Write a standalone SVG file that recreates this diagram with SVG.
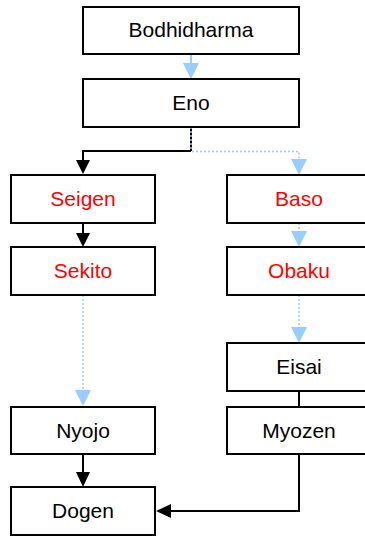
<svg xmlns="http://www.w3.org/2000/svg" width="365" height="536" viewBox="0 0 365 536">
<style>
.box{fill:#fff;stroke:#000;stroke-width:2}
.t{font-family:"Liberation Sans",Arial,sans-serif;font-size:21px;text-anchor:middle;fill:#000}
.r{fill:#ff0000}
.k{fill:none;stroke:#000;stroke-width:2}
.b{fill:none;stroke:#99ccff;stroke-width:1.5;stroke-dasharray:2 2}
.bs{fill:none;stroke:#99ccff;stroke-width:2}
.ha{fill:#000}
.hb{fill:#99ccff}
</style>
<rect width="365" height="536" fill="#fff"/>
<g id="connectors">
<line class="bs" x1="191" y1="54" x2="191" y2="64"/>
<polygon class="hb" points="183,63 199,63 191,79"/>
<line class="k" x1="191" y1="127" x2="191" y2="151"/>
<line class="b" x1="191" y1="127" x2="191" y2="151"/>
<polyline class="k" points="191,151 83,151 83,162"/>
<polygon class="ha" points="76,160 90,160 83,174"/>
<polyline class="b" points="192,151.5 299,151.5 299,160"/>
<polygon class="hb" points="291,159 307,159 299,175"/>
<line class="k" x1="83" y1="223" x2="83" y2="234"/>
<polygon class="ha" points="76,233 90,233 83,247"/>
<line class="b" x1="299" y1="223" x2="299" y2="232"/>
<polygon class="hb" points="291,231 307,231 299,247"/>
<line class="b" x1="299" y1="295" x2="299" y2="328"/>
<polygon class="hb" points="291,327 307,327 299,343"/>
<line class="b" x1="83" y1="295" x2="83" y2="391"/>
<polygon class="hb" points="75,390 91,390 83,406"/>
<line class="k" x1="299" y1="391" x2="299" y2="407"/>
<line class="k" x1="83" y1="454" x2="83" y2="474"/>
<polygon class="ha" points="76,472 90,472 83,487"/>
<polyline class="k" points="299,454 299,511 170,511"/>
<polygon class="ha" points="171,504 171,518 156,511"/>
</g>
<g id="bodhidharma"><rect class="box" x="83" y="7" width="216" height="47"/><text class="t" x="191" y="37">Bodhidharma</text></g>
<g id="eno"><rect class="box" x="83" y="79" width="216" height="48"/><text class="t" x="191" y="110">Eno</text></g>
<g id="seigen"><rect class="box" x="11" y="175" width="144" height="48"/><text class="t r" x="83" y="206">Seigen</text></g>
<g id="baso"><rect class="box" x="227" y="175" width="144" height="48"/><text class="t r" x="299" y="206">Baso</text></g>
<g id="sekito"><rect class="box" x="11" y="247" width="144" height="48"/><text class="t r" x="83" y="278">Sekito</text></g>
<g id="obaku"><rect class="box" x="227" y="247" width="144" height="48"/><text class="t r" x="299" y="278">Obaku</text></g>
<g id="eisai"><rect class="box" x="227" y="343" width="144" height="48"/><text class="t" x="299" y="374">Eisai</text></g>
<g id="nyojo"><rect class="box" x="11" y="407" width="144" height="47"/><text class="t" x="83" y="438">Nyojo</text></g>
<g id="myozen"><rect class="box" x="227" y="407" width="144" height="47"/><text class="t" x="299" y="438">Myozen</text></g>
<g id="dogen"><rect class="box" x="11" y="487" width="144" height="48"/><text class="t" x="83" y="518">Dogen</text></g>
</svg>
